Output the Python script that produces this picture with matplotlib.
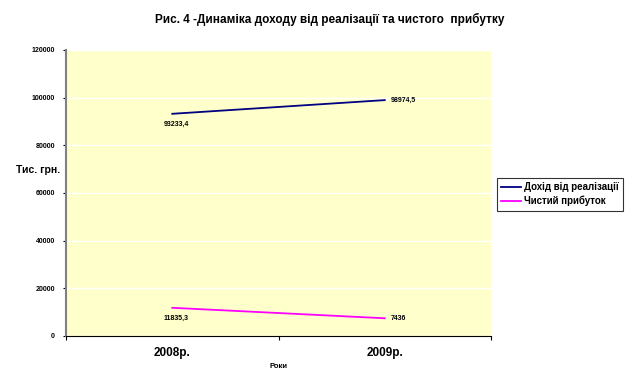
import matplotlib.pyplot as plt
import numpy as np

plt.rcParams['font.family'] = ['Liberation Sans', 'DejaVu Sans']

years = ['2008р.', '2009р.']
revenue = [93233.4, 98974.5]
profit = [11835.3, 7436]
revenue_labels = ['93233,4', '98974,5']
profit_labels = ['11835,3', '7436']
series_names = ['Дохід від реалізації', 'Чистий прибуток']
yticks = [0, 20000, 40000, 60000, 80000, 100000, 120000]


def main():
    fig = plt.figure(figsize=(6.26, 3.87), dpi=100)
    ax = fig.add_axes([66/626, 1 - 336/387, 425/626, 286/387])
    ax.set_facecolor('#FFFFCC')

    x = np.arange(len(years))
    l1, = ax.plot(x, revenue, color='#000080', lw=1.3)
    l2, = ax.plot(x, profit, color='#FF00FF', lw=1.3)

    # data labels
    ax.annotate(revenue_labels[0], (x[0], revenue[0]), xytext=(-6, -9),
                textcoords='offset points', fontsize=5, fontweight='bold')
    ax.annotate(revenue_labels[1], (x[1], revenue[1]), xytext=(4, 0),
                textcoords='offset points', fontsize=5, fontweight='bold', va='center')
    ax.annotate(profit_labels[0], (x[0], profit[0]), xytext=(-6, -9),
                textcoords='offset points', fontsize=5, fontweight='bold')
    ax.annotate(profit_labels[1], (x[1], profit[1]), xytext=(4, 0),
                textcoords='offset points', fontsize=5, fontweight='bold', va='center')

    ax.set_xlim(-0.5, 1.5)
    ax.set_ylim(0, 120000)
    ax.set_yticks(yticks)
    ax.set_yticklabels([str(v) for v in yticks], fontsize=5, fontweight='bold')
    ax.set_xticks([-0.5, 0.5, 1.5])
    ax.set_xticklabels(['', '', ''])
    ax.set_xticks(x, minor=True)
    ax.set_xticklabels(years, minor=True, fontsize=8.5, fontweight='bold')
    ax.tick_params(axis='x', which='minor', length=0, pad=8)
    ax.tick_params(axis='x', which='major', length=3, direction='out')
    ax.tick_params(axis='y', length=2, pad=6)

    ax.grid(axis='y', color='white', lw=1)
    ax.set_axisbelow(True)
    for side in ['top', 'right']:
        ax.spines[side].set_visible(False)
    ax.spines['left'].set_color('#808080')
    ax.spines['left'].set_linewidth(1.5)
    ax.spines['bottom'].set_color('black')

    fig.text(330/626, 1 - 19/387, 'Рис. 4 -Динаміка доходу від реалізації та чистого  прибутку',
             ha='center', va='center', fontsize=8.5, fontweight='bold')
    fig.text(38/626, 1 - 170/387, 'Тис. грн.', ha='center', va='center',
             fontsize=7.5, fontweight='bold')
    fig.text(278/626, 1 - 366/387, 'Роки', ha='center', va='center',
             fontsize=5.5, fontweight='bold')

    leg = fig.legend([l1, l2], series_names, loc='upper left',
                     bbox_to_anchor=(497/626, 1 - 178/387), fontsize=7,
                     frameon=True, fancybox=False, handlelength=2.0,
                     borderpad=0.45, labelspacing=0.35, handletextpad=0.3,
                     borderaxespad=0)
    for t in leg.get_texts():
        t.set_fontweight('bold')
    leg.get_frame().set_edgecolor('black')
    leg.get_frame().set_linewidth(0.8)

    fig.savefig('out.png', dpi=100)
    plt.close()


if __name__ == "__main__":
    main()
